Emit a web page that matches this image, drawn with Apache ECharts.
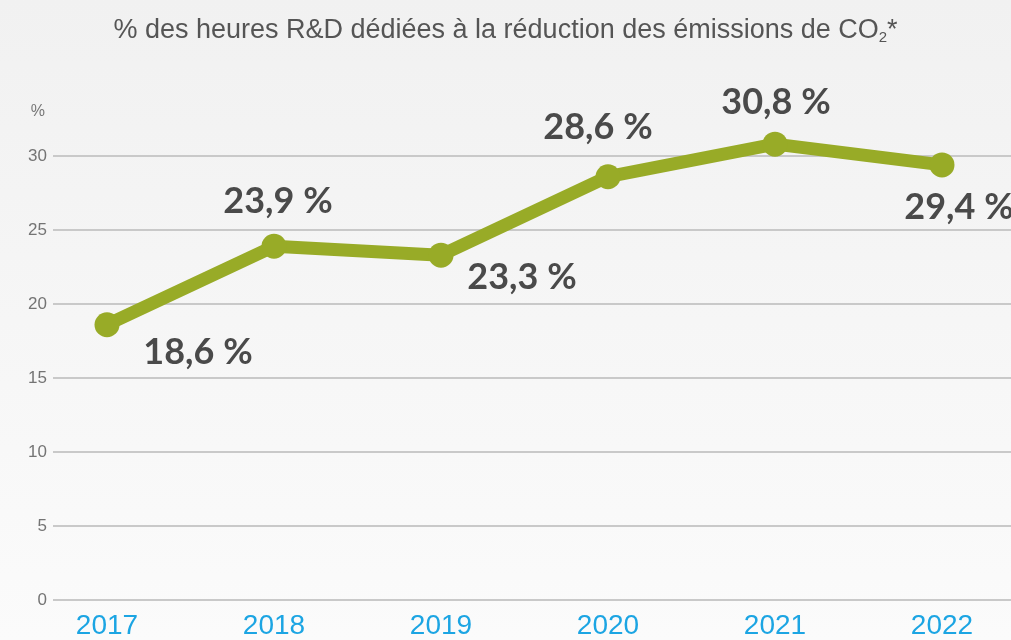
<!DOCTYPE html>
<html>
<head>
<meta charset="utf-8">
<script src="https://cdn.jsdelivr.net/npm/echarts@6/dist/echarts.min.js"></script>
<style>
  html, body { margin: 0; padding: 0; }
  #chart { width: 1011px; height: 640px; }
</style>
</head>
<body>
<div id="chart"></div>
<script>
// données
var years = ['2017', '2018', '2019', '2020', '2021', '2022']
var shares = [18.6, 23.9, 23.3, 28.6, 30.8, 29.4]
var yTicks = [0, 5, 10, 15, 20, 25, 30]

// décalage des étiquettes autour de chaque point
var labelOffsets = [[91, 28], [4, -45], [81, 22], [-10, -49], [1, -42], [17, 43]]

var chart = echarts.init(document.getElementById('chart'))

var fmt = function (v) {
  return String(v).replace('.', ',') + ' %'
}

chart.setOption({
  backgroundColor: new echarts.graphic.LinearGradient(0, 0, 0, 1, [
    { offset: 0, color: '#f1f1f1' },
    { offset: 1, color: '#fbfbfb' }
  ]),
  animation: false,
  title: {
    text: '{t|% des heures R&D dédiées à la réduction des émissions de CO}{s|2}{t|*}',
    left: 'center',
    top: 12,
    textStyle: {
      fontWeight: 'normal',
      rich: {
        t: { fontFamily: 'Liberation Sans', fontWeight: 'normal', fontSize: 27, color: '#555555' },
        s: { fontFamily: 'Liberation Sans', fontWeight: 'normal', fontSize: 15, color: '#555555', padding: [13, 0, 0, 0] }
      }
    }
  },
  grid: [
    // grille des lignes horizontales
    { left: 53, right: 0, top: 156, bottom: 40 },
    // grille de la série (points aux extrémités)
    { left: 107, right: 69, top: 156, bottom: 40 }
  ],
  xAxis: [
    { gridIndex: 0, type: 'category', data: years, show: false },
    {
      gridIndex: 1,
      type: 'category',
      data: years,
      boundaryGap: false,
      axisLine: { show: false },
      axisTick: { show: false },
      axisLabel: {
        margin: 12,
        fontFamily: 'Liberation Sans',
        fontSize: 28,
        color: '#1ca5e3'
      }
    }
  ],
  yAxis: [
    {
      gridIndex: 0,
      type: 'value',
      min: yTicks[0],
      max: yTicks[yTicks.length - 1],
      interval: 5,
      name: '%',
      nameLocation: 'end',
      nameGap: 36,
      nameTextStyle: {
        fontFamily: 'Liberation Sans',
        fontSize: 16,
        color: '#777777',
        align: 'right',
        padding: [0, 8, 0, 0]
      },
      axisLine: { show: false },
      axisTick: { show: false },
      axisLabel: {
        margin: 6,
        fontFamily: 'Liberation Sans',
        fontSize: 17,
        color: '#747474'
      },
      splitLine: { lineStyle: { color: '#c9c9c9', width: 2 } }
    },
    {
      gridIndex: 1,
      type: 'value',
      min: yTicks[0],
      max: yTicks[yTicks.length - 1],
      show: false,
      splitLine: { show: false }
    }
  ],
  series: [{
    type: 'line',
    xAxisIndex: 1,
    yAxisIndex: 1,
    clip: false,
    data: shares.map(function (v, i) {
      return {
        value: v,
        label: { offset: labelOffsets[i] }
      }
    }),
    symbol: 'circle',
    symbolSize: 25,
    lineStyle: { color: '#98ab27', width: 13 },
    itemStyle: { color: '#98ab27' },
    label: {
      show: true,
      position: 'inside',
      formatter: function (p) { return fmt(p.value) },
      fontFamily: 'Lato',
      fontWeight: 'bold',
      fontSize: 36,
      color: '#4a4a4a'
    }
  }]
})
</script>
</body>
</html>
